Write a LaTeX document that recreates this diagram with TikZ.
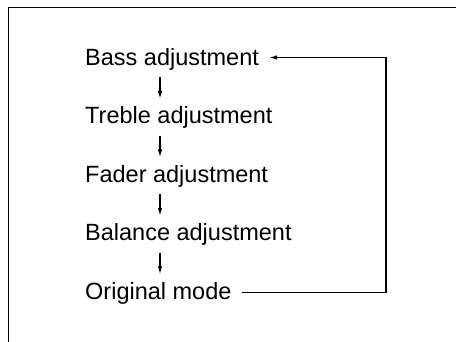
\documentclass[tikz,border=0pt]{standalone}
\usepackage{fontspec}
\setmainfont{Liberation Sans}
\usetikzlibrary{arrows.meta,positioning,calc}

\begin{document}
\begin{tikzpicture}[x=1pt, y=-1pt, font=\fontsize{23.5}{28}\selectfont]
    \tikzset{modetext/.style={anchor=base west, inner sep=0pt, text height=18pt, text depth=6pt}}
    \tikzset{steparrow/.style={-{Latex[length=8pt, width=4.5pt]}, line width=1.2pt}}

    % canvas and frame (only top and left edges show)
    \useasboundingbox (0,0) rectangle (456,342);
    \draw[line width=1.1pt] (456,7.3) -- (8.8,7.3) -- (8.8,342);

    % Modes
    \node[modetext] (bass)    at (85, 65.5)  {Bass adjustment};
    \node[modetext] (treble)  at (85, 124)   {Treble adjustment};
    \node[modetext] (fader)   at (85, 182.5) {Fader adjustment};
    \node[modetext] (balance) at (85, 241)   {Balance adjustment};
    \node[modetext] (orig)    at (85, 299.5) {Original mode};

    % Down arrows
    \coordinate (col) at (160,0);
    \foreach \a/\b in {bass/treble, treble/fader, fader/balance, balance/orig} {
      \draw[steparrow, shorten <=5.5pt, shorten >=7pt] (\a.south -| col) -- (\b.north -| col);
    }

    % Return loop
    \coordinate (loop) at (386,0);
    \draw[steparrow]
      ([xshift=10pt, yshift=1pt]orig.east) -| ([yshift=2pt]loop |- bass.east)
      -- ([xshift=10pt, yshift=2pt]bass.east);
\end{tikzpicture}
\end{document}
